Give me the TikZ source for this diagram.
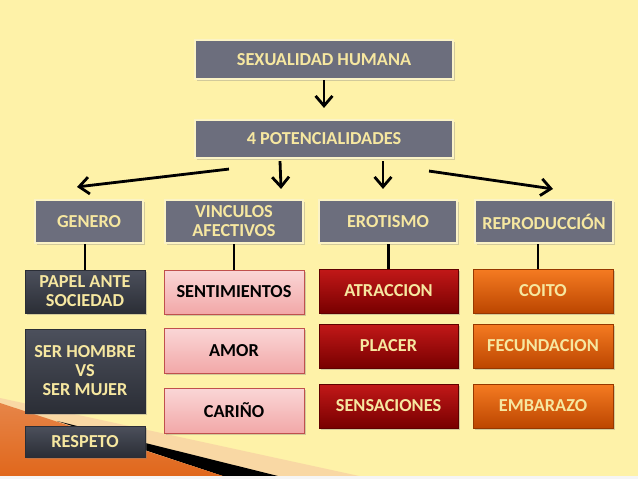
\documentclass[tikz,border=0pt]{standalone}
\usepackage{fontspec}
\setmainfont{Carlito}
\usetikzlibrary{arrows.meta,shadows}
\definecolor{paper}{HTML}{FEF2A8}
\definecolor{slate}{HTML}{6C6E7D}
\definecolor{cream}{HTML}{F6E7A0}
\definecolor{rim}{HTML}{FBF3C6}
\definecolor{inktop}{HTML}{4C505C}
\definecolor{inkbot}{HTML}{2B2E36}
\definecolor{rosetop}{HTML}{FAD6D6}
\definecolor{rosebot}{HTML}{F2A8A8}
\definecolor{roseline}{HTML}{C0504D}
\definecolor{winetop}{HTML}{C21818}
\definecolor{winebot}{HTML}{780000}
\definecolor{flametop}{HTML}{F57B22}
\definecolor{flamebot}{HTML}{BC4600}
\definecolor{peach}{HTML}{F9D8A4}
\definecolor{rust}{HTML}{E0661A}
\begin{document}
\begin{tikzpicture}[x=0.025cm,y=-0.025cm,
  size/.style 2 args={minimum width=#1*0.025cm,minimum height=#2*0.025cm},
  card/.style={rectangle,inner sep=1pt,align=center,
    font=\bfseries\fontsize{13}{13.5}\selectfont,
    drop shadow={shadow xshift=1.2pt,shadow yshift=-1.5pt,opacity=.35}},
  head/.style={card,fill=slate,draw=rim,line width=1.5pt,text=cream},
  inkbox/.style={card,top color=inktop,bottom color=inkbot,draw=inkbot,text=cream},
  rosebox/.style={card,top color=rosetop,bottom color=rosebot,draw=roseline,text=black},
  winebox/.style={card,top color=winetop,bottom color=winebot,draw=winebot!80!black,text=cream},
  flamebox/.style={card,top color=flametop,bottom color=flamebot,draw=flamebot!80!black,text=cream},
  arr/.style={line width=2pt,-{Straight Barb[length=7pt,width=12pt]}},
  link/.style={line width=1.5pt}]
\useasboundingbox (0,0) rectangle (638,479);
\fill[paper] (0,0) rectangle (638,479);
\fill[peach] (0,398)--(373,479)--(0,479)--cycle;
\fill[black] (57,421)--(290,479)--(232,479)--cycle;
\shade[top color=rust!80!white,bottom color=rust] (0,403)--(232,479)--(0,479)--cycle;
\fill[white!92!gray] (0,476) rectangle (638,479);

\node[head,size={258}{39}] (sex) at (324,59.5) {SEXUALIDAD HUMANA};
\node[head,size={258}{38}] (pot) at (324,139) {4 POTENCIALIDADES};

\node[head,size={108}{43}] (gen) at (89,221.5) {GENERO};
\node[head,size={138}{43}] (vin) at (234,221.5) {VINCULOS\\AFECTIVOS};
\node[head,size={138}{43}] (ero) at (388,221.5) {EROTISMO};
\node[head,size={138}{43}] (rep) at (544,221.5) {REPRODUCCIÓN};

\node[inkbox,size={120}{43}] (papel) at (85,291.5) {PAPEL ANTE\\SOCIEDAD};
\node[inkbox,size={120}{84}] (serh) at (85,371) {SER HOMBRE\\VS\\SER MUJER};
\node[inkbox,size={120}{31}] (resp) at (85,441.5) {RESPETO};

\node[rosebox,size={140}{44}] (sent) at (234,292) {SENTIMIENTOS};
\node[rosebox,size={140}{45}] (amor) at (234,350.5) {AMOR};
\node[rosebox,size={140}{45}] (cari) at (234,410.5) {CARIÑO};

\node[winebox,size={139}{44}] (atr) at (388.5,291) {ATRACCION};
\node[winebox,size={139}{44}] (plac) at (388.5,346) {PLACER};
\node[winebox,size={139}{44}] (sens) at (388.5,406) {SENSACIONES};

\node[flamebox,size={140}{44}] (coito) at (543,291) {COITO};
\node[flamebox,size={140}{44}] (fecu) at (543,346) {FECUNDACION};
\node[flamebox,size={140}{44}] (emb) at (543,406) {EMBARAZO};

\draw[arr] (sex.south) -- ([yshift=11*0.025cm]pot.north);
\draw[arr] ([shift={(35,10)}]pot.south west) -- ([shift={(-12,-12)}]gen.north);
\draw[arr] ([shift={(-44,2)}]pot.south) -- ([shift={(-23,-10)}]vin.north east);
\draw[arr] ([shift={(59,2)}]pot.south) -- ([shift={(-5,-10)}]ero.north);
\draw[arr] ([shift={(-25,12)}]pot.south east) -- ([shift={(9,-10)}]rep.north);

\draw[link] (papel.north) -- (papel.north |- gen.south);
\draw[link] (sent.north) -- (sent.north |- vin.south);
\draw[link] (atr.north) -- (atr.north |- ero.south);
\draw[link] ([xshift=-5*0.025cm]coito.north) -- ([xshift=-5*0.025cm]coito.north |- rep.south);
\end{tikzpicture}
\end{document}
